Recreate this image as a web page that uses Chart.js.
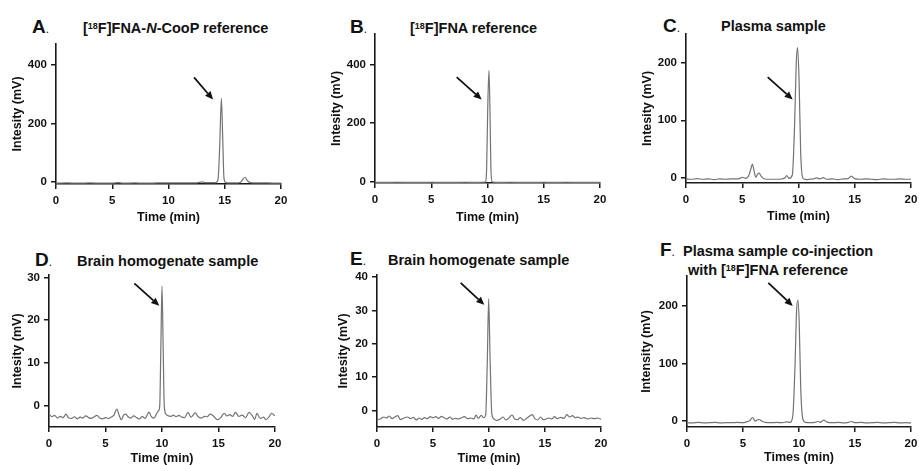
<!DOCTYPE html>
<html><head><meta charset="utf-8">
<script src="https://cdn.jsdelivr.net/npm/chart.js@4/dist/chart.umd.min.js"></script>
<style>
html,body{margin:0;padding:0;background:#fff;width:919px;height:465px;overflow:hidden;position:relative;font-family:"Liberation Sans",Arial,sans-serif;}
canvas{position:absolute;}
.hd{position:absolute;white-space:nowrap;color:#111;font-weight:bold;}
.lt{font-size:19px;line-height:19px;}
.lt span{font-size:12px;font-weight:normal;}
.tt{font-size:14.5px;line-height:14.5px;}
.sp{font-size:0.62em;position:relative;top:-0.45em;}
</style></head><body>
<div class="hd lt" style="left:32px;top:16.9px">A<span>.</span></div>
<div class="hd tt" style="left:83px;top:20.7px">[<span class="sp">18</span>F]FNA-<i>N</i>-CooP reference</div>
<div class="hd lt" style="left:350px;top:16.9px">B<span>.</span></div>
<div class="hd tt" style="left:410px;top:20.7px">[<span class="sp">18</span>F]FNA reference</div>
<div class="hd lt" style="left:663px;top:15.9px">C<span>.</span></div>
<div class="hd tt" style="left:721px;top:18.7px">Plasma sample</div>
<div class="hd lt" style="left:35px;top:249.9px">D<span>.</span></div>
<div class="hd tt" style="left:77px;top:253.7px">Brain homogenate sample</div>
<div class="hd lt" style="left:350px;top:248.9px">E<span>.</span></div>
<div class="hd tt" style="left:388px;top:252.7px">Brain homogenate sample</div>
<div class="hd lt" style="left:660px;top:239.9px">F<span>.</span></div>
<div class="hd tt" style="left:683px;top:243.7px">Plasma sample co-injection</div>
<div class="hd tt" style="left:688px;top:262.7px">with [<span class="sp">18</span>F]FNA reference</div>
<canvas id="cA"></canvas><canvas id="cB"></canvas><canvas id="cC"></canvas>
<canvas id="cD"></canvas><canvas id="cE"></canvas><canvas id="cF"></canvas>
<script>
// ---- data (time in min, intensity in mV) ----
const timeA=[0,1,2,3,4,5,5.5,6,7,8,9,10,11,12,12.5,13,13.3,13.7,14.2,14.4,14.55,14.7,14.82,14.92,15.05,15.3,15.7,16.1,16.4,16.6,16.8,17.0,17.3,17.8,18.5,19.2,20];
const intA=[-3,-2.5,-3,-2.5,-3,-3,-1.5,-3,-2.5,-3,-2.5,-2,-2.5,-2,-2,1,-1.5,-1,-1,10,120,285,150,20,0,-2,-2,-2,0,10,17,6,-1.5,-2.5,-2,-3,-3];

const timeB=[0,1,2,3,4,5,6,7,8,9,9.5,9.8,9.92,10.02,10.13,10.22,10.3,10.4,10.6,11,12,13,14,15,16,17,18,19,20];
const intB=[-3,-3,-2.5,-3,-3,-2.5,-3,-3,-2.5,-3,-2.5,-2,40,250,380,240,50,-1,-2.5,-3,-2.5,-3,-3,-2.5,-3,-2.5,-3,-3,-3];

const timeC=[0,0.5,1,1.5,2,2.5,3,3.5,4,4.5,4.8,5.0,5.3,5.6,5.8,5.9,6.05,6.2,6.35,6.5,6.7,7.0,7.5,8.0,8.5,8.8,8.95,9.15,9.45,9.65,9.8,9.92,10.05,10.2,10.4,10.7,11.0,11.3,11.6,11.9,12.2,12.5,13,13.5,14,14.4,14.7,15.0,15.5,16,16.5,17,17.5,18,18.5,19,19.5,20];
const intC=[-2,-2.5,-1.5,-2.5,-2,-3,-2,-2.5,-2,-2,-1,1,-1,5,18,24,12,1,6,8,2,-2,-2.5,-2.5,-2,0,4,-1,5,90,200,226,170,40,-1,-3,-2.5,-2,0,-2,0.5,-2.5,-2,-3,-2,-1.5,3,-1.5,-2.5,-2,-2.5,-3,-2,-2.5,-2.5,-2,-2.5,-2.5];

const timeD=[0,0.25,0.5,0.75,1,1.25,1.5,1.75,2,2.25,2.5,2.75,3,3.25,3.5,3.75,4,4.25,4.5,4.75,5,5.25,5.5,5.75,6,6.2,6.4,6.6,6.8,7,7.25,7.5,7.75,8,8.25,8.5,8.85,9.05,9.3,9.5,9.67,9.8,9.9,10,10.1,10.2,10.35,10.55,10.8,11,11.25,11.5,11.75,12,12.3,12.55,12.95,13.2,13.5,13.75,14,14.25,14.5,14.9,15.2,15.5,15.75,16,16.25,16.5,16.8,17.1,17.4,17.7,18,18.2,18.4,18.7,19,19.2,19.5,19.7,20];
const intD=[-2.0,-2.6,-2.3,-2.9,-2.5,-2.8,-2.0,-2.9,-3.0,-2.6,-3.1,-2.7,-2.9,-2.4,-2.8,-3.0,-2.6,-2.3,-2.9,-3.1,-2.8,-3.0,-2.7,-2.2,-0.8,-2.2,-3.3,-2.2,-2.0,-2.6,-2.9,-2.4,-2.8,-3.1,-2.5,-3.0,-1.5,-2.6,-2.9,-2.0,-1.3,0,14,28,14,0,-2.0,-2.4,-2.5,-2.2,-2.6,-2.3,-2.7,-2.8,-1.6,-2.7,-1.7,-2.6,-2.9,-2.5,-2.6,-2.0,-2.3,-3.3,-2.8,-1.8,-2.4,-2.1,-2.5,-1.6,-2.5,-2.2,-2.8,-1.6,-2.4,-3.2,-1.8,-3.0,-2.7,-3.3,-2.5,-1.8,-2.4];

const timeE=[0,0.3,0.6,0.85,1.1,1.35,1.6,1.85,2.1,2.4,2.7,3,3.25,3.5,3.75,4,4.25,4.5,4.75,5,5.25,5.5,5.75,6,6.25,6.5,6.75,7,7.25,7.5,7.8,8.1,8.4,8.65,8.85,9.05,9.3,9.5,9.7,9.85,9.97,10.1,10.25,10.45,10.7,11,11.25,11.5,11.75,12.05,12.3,12.55,12.8,13.1,13.35,13.6,13.85,14.1,14.35,14.6,14.85,15.1,15.35,15.6,15.85,16.1,16.4,16.7,16.95,17.2,17.45,17.7,17.95,18.2,18.5,18.8,19.1,19.4,19.7,20];
const intE=[-2.8,-2.6,-2.0,-2.3,-1.7,-2.5,-2.0,-1.6,-2.8,-2.3,-2.0,-2.5,-2.1,-2.9,-2.3,-2.7,-2.2,-2.5,-1.9,-2.2,-1.9,-2.4,-1.8,-2.2,-2.6,-2.0,-2.7,-2.4,-2.6,-2.3,-1.9,-2.5,-2.3,-2.6,-1.4,-2.4,-1.5,-2.2,-1.5,15,33.5,15,-1,-2.6,-3.0,-2.6,-2.0,-2.9,-2.4,-1.4,-2.6,-2.8,-2.2,-3.0,-2.4,-1.8,-1.3,-2.5,-2.9,-2.0,-2.8,-2.6,-2.3,-2.6,-1.9,-2.5,-2.1,-2.4,-1.3,-2.0,-1.6,-2.2,-2.0,-2.4,-2.2,-2.6,-2.3,-2.5,-2.3,-2.7];

const timeF=[0,0.5,1,1.5,2,2.5,3,3.5,4,4.5,5,5.3,5.6,5.85,6.1,6.25,6.45,6.7,7,7.5,8,8.5,8.9,9.2,9.45,9.65,9.78,9.9,10.02,10.15,10.35,10.6,11,11.4,11.7,11.95,12.2,12.5,13,13.5,14,14.4,14.7,15,15.5,16,16.5,17,17.5,18,18.5,19,19.5,20];
const intF=[-2.5,-3,-2,-3,-2.5,-2,-3,-2.5,-2.5,-2,-2.5,-1,1,6.5,0,2,3,0,-2,-2.5,-2,-2.5,-1,-2,10,100,190,210,170,60,3,-2,-2.5,-2,-0.5,-1.5,2,-1.5,-2.5,-2,-3,-2,-0.5,-2.5,-2,-3,-2.5,-2,-3,-2.5,-2,-3,-2.5,-3];

// tick labels
const xTicks=[0,5,10,15,20];
const yTicksA=[0,200,400];
const yTicksB=[0,200,400];
const yTicksC=[0,100,200];
const yTicksD=[0,10,20,30];
const yTicksE=[0,10,20,30,40];
const yTicksF=[0,100,200];

// arrows (start time, start mV, end time, end mV)
const arrowA=[12.27,356,13.96,281];
const arrowB=[7.26,357,9.48,281];
const arrowC=[7.26,175,9.48,136];
const arrowD=[7.55,28.6,9.76,23.4];
const arrowE=[7.47,38.3,9.58,31.7];
const arrowF=[7.26,240,9.44,200];

const FONT='"Liberation Sans", Arial, sans-serif';
const AX='#1a1a1a';

const panels=[
 {id:'cA',t:timeA,v:intA,yt:yTicksA,ymin:-6,ymax:470,arrow:arrowA,box:[56,43,281,184],ytitle:'Intesity (mV)',xtitle:'Time (min)',yPad:4.5,xPad:0.8},
 {id:'cB',t:timeB,v:intB,yt:yTicksB,ymin:-5,ymax:505,arrow:arrowB,box:[375,33,600,183],ytitle:'Intesity (mV)',xtitle:'Time (min)',yPad:4.5,xPad:0},
 {id:'cC',t:timeC,v:intC,yt:yTicksC,ymin:-9,ymax:250,arrow:arrowC,box:[686,33,911,183],ytitle:'Intesity (mV)',xtitle:'Time (min)',yPad:4.5,xPad:0.8},
 {id:'cD',t:timeD,v:intD,yt:yTicksD,ymin:-5,ymax:30.6,arrow:arrowD,box:[49,274,275,427],ytitle:'Intesity (mV)',xtitle:'Time (min)',yPad:11.5,xPad:2.5},
 {id:'cE',t:timeE,v:intE,yt:yTicksE,ymin:-5,ymax:40.7,arrow:arrowE,box:[377,274,601,427],ytitle:'Intesity (mV)',xtitle:'Time (min)',yPad:9.5,xPad:2.5},
 {id:'cF',t:timeF,v:intF,yt:yTicksF,ymin:-10,ymax:252,arrow:arrowF,box:[687,275,911,427],ytitle:'Intensity (mV)',xtitle:'Times (min)',yPad:2.5,xPad:3.5}
];

const YW=50, XH=42, PT=10, PR=14;

const arrowPlugin={
 id:'arrow',
 afterDatasetsDraw(chart,args,opts){
  const a=opts.pts; if(!a) return;
  const xs=chart.scales.x, ys=chart.scales.y, ctx=chart.ctx;
  const x1=xs.getPixelForValue(a[0]), y1=ys.getPixelForValue(a[1]);
  const x2=xs.getPixelForValue(a[2]), y2=ys.getPixelForValue(a[3]);
  const ang=Math.atan2(y2-y1,x2-x1), L=8, W=3.6;
  const bx=x2-L*Math.cos(ang), by=y2-L*Math.sin(ang);
  ctx.save();
  ctx.strokeStyle='#111'; ctx.fillStyle='#111'; ctx.lineWidth=1.8;
  ctx.beginPath(); ctx.moveTo(x1,y1); ctx.lineTo(bx,by); ctx.stroke();
  ctx.beginPath(); ctx.moveTo(x2,y2);
  ctx.lineTo(bx+W*Math.sin(ang),by-W*Math.cos(ang));
  ctx.lineTo(bx-W*Math.sin(ang),by+W*Math.cos(ang));
  ctx.closePath(); ctx.fill();
  ctx.restore();
 }
};

panels.forEach(p=>{
 const [l,t,r,b]=p.box;
 const cv=document.getElementById(p.id);
 const w=(r-l)+YW+PR, h=(b-t)+PT+XH;
 cv.width=w; cv.height=h;
 cv.style.left=(l-YW)+'px'; cv.style.top=(t-PT)+'px';
 cv.style.width=w+'px'; cv.style.height=h+'px';
 const tickFont={size:11.5,weight:'bold',family:FONT};
 const titleFont={size:12.5,weight:'bold',family:FONT};
 new Chart(cv,{
  type:'line',
  data:{datasets:[{
   data:p.t.map((x,i)=>({x:x,y:p.v[i]})),
   borderColor:'#737373',borderWidth:1.2,pointRadius:0,fill:false,
   cubicInterpolationMode:'monotone'
  }]},
  options:{
   responsive:false,animation:false,devicePixelRatio:1,
   layout:{padding:{top:PT,right:PR,left:0,bottom:0}},
   plugins:{legend:{display:false},tooltip:{enabled:false},arrow:{pts:p.arrow}},
   scales:{
    x:{type:'linear',min:0,max:20,
     afterBuildTicks:s=>{s.ticks=xTicks.map(v=>({value:v}));},
     afterFit:s=>{s.height=XH;},
     grid:{drawOnChartArea:false,drawTicks:true,tickLength:5,color:AX,lineWidth:1.5},
     border:{display:true,color:AX,width:1.6},
     ticks:{font:tickFont,color:'#111',padding:5,maxRotation:0},
     title:{display:true,text:p.xtitle,font:titleFont,color:'#111',padding:{top:0,bottom:p.xPad}}
    },
    y:{type:'linear',min:p.ymin,max:p.ymax,
     afterBuildTicks:s=>{s.ticks=p.yt.map(v=>({value:v}));},
     afterFit:s=>{s.width=YW;},
     grid:{drawOnChartArea:false,drawTicks:true,tickLength:5,color:AX,lineWidth:1.5},
     border:{display:true,color:AX,width:1.6},
     ticks:{font:tickFont,color:'#111',padding:4},
     title:{display:true,text:p.ytitle,font:titleFont,color:'#111',padding:{top:p.yPad,bottom:0}}
    }
   }
  },
  plugins:[arrowPlugin]
 });
});
</script>
</body></html>
